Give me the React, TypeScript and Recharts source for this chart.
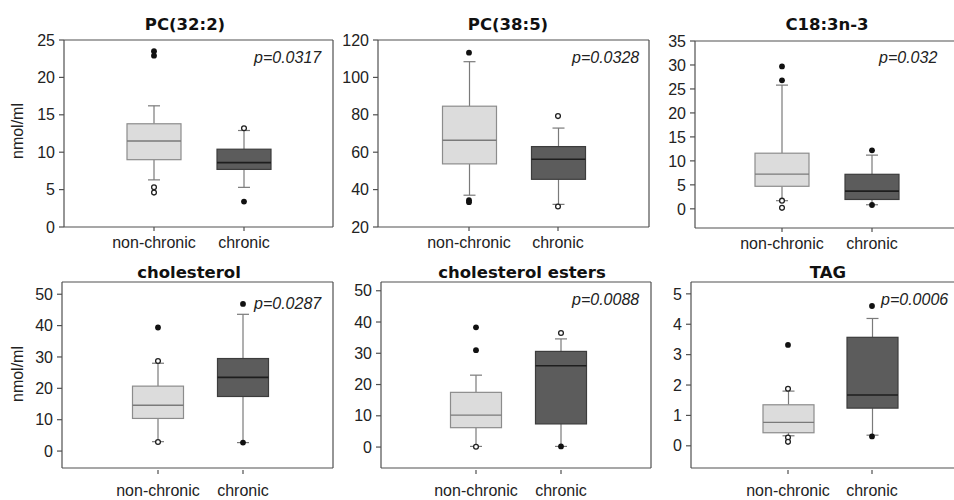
import React from 'react';
import { ComposedChart, Bar, Scatter, XAxis, YAxis } from 'recharts';

const categories = ['non-chronic', 'chronic'];
const titles = ['PC(32:2)', 'PC(38:5)', 'C18:3n-3', 'cholesterol', 'cholesterol esters', 'TAG'];
const pValues = ['p=0.0317', 'p=0.0328', 'p=0.032', 'p=0.0287', 'p=0.0088', 'p=0.0006'];
const yLabel = 'nmol/ml';

// per category: [whisker low, Q1, median, Q3, whisker high]
const pc322Box = [[6.3, 9.0, 11.5, 13.8, 16.2], [5.3, 7.7, 8.6, 10.4, 12.9]];
const pc385Box = [[37, 53.75, 66.4, 84.6, 108.4], [32.1, 45.5, 56.25, 63, 72.9]];
const c183Box = [[1.7, 4.7, 7.25, 11.6, 25.8], [0.85, 1.95, 3.7, 7.2, 11.2]];
const cholBox = [[3.0, 10.4, 14.6, 20.7, 28.0], [2.7, 17.4, 23.5, 29.5, 43.6]];
const cholEstBox = [[0.2, 6.2, 10.2, 17.5, 23.0], [0.2, 7.4, 26.0, 30.6, 34.6]];
const tagBox = [[0.33, 0.43, 0.77, 1.35, 1.8], [0.35, 1.24, 1.67, 3.57, 4.19]];

// outliers: [category index, value, extreme (1 = filled, 0 = open)]
const pc322Out = [[0, 23.5, 1], [0, 22.9, 1], [0, 5.3, 0], [0, 4.6, 0], [1, 13.2, 0], [1, 3.4, 1]];
const pc385Out = [[0, 113.2, 1], [0, 34.3, 1], [0, 33.3, 1], [1, 79.3, 0], [1, 31.0, 0]];
const c183Out = [[0, 29.7, 1], [0, 26.8, 1], [0, 1.7, 0], [0, 0.2, 0], [1, 12.2, 1], [1, 0.8, 1]];
const cholOut = [[0, 39.4, 1], [0, 28.7, 0], [0, 2.9, 0], [1, 46.9, 1], [1, 2.7, 1]];
const cholEstOut = [[0, 38.3, 1], [0, 31.0, 1], [0, 0.1, 0], [1, 36.5, 0], [1, 0.2, 1]];
const tagOut = [[0, 3.32, 1], [0, 1.88, 0], [0, 0.27, 0], [0, 0.13, 0], [1, 4.6, 1], [1, 0.31, 1]];

const yDomains = [[0, 25], [20, 120], [-4, 35], [-5.4, 53.9], [-6.7, 52.8], [-0.73, 5.39]];
const yTicks = [
  [0, 5, 10, 15, 20, 25],
  [20, 40, 60, 80, 100, 120],
  [0, 5, 10, 15, 20, 25, 30, 35],
  [0, 10, 20, 30, 40, 50],
  [0, 10, 20, 30, 40, 50],
  [0, 1, 2, 3, 4, 5],
];

const boxes = [pc322Box, pc385Box, c183Box, cholBox, cholEstBox, tagBox];
const outliers = [pc322Out, pc385Out, c183Out, cholOut, cholEstOut, tagOut];

// layout (page px): chart rect and plot frame
const layout = [
  { cx: 0, cy: 0, cw: 340, ch: 255, L: 64, R: 333, T: 40, B: 227, padL: 45, padR: 44, bar: 54, row: 0, tx: 185, ty: 29.5, px: 254, py: 63 },
  { cx: 340, cy: 0, cw: 320, ch: 255, L: 378, R: 649, T: 40, B: 227, padL: 46.5, padR: 46.5, bar: 54, row: 0, tx: 508, ty: 29.5, px: 572, py: 63 },
  { cx: 660, cy: 0, cw: 315, ch: 255, L: 695, R: 962, T: 41, B: 228, padL: 42, padR: 45, bar: 54, row: 0, tx: 827, ty: 29.5, px: 879, py: 63 },
  { cx: 0, cy: 255, cw: 340, ch: 245, L: 62, R: 333, T: 282, B: 468, padL: 53.5, padR: 47.5, bar: 51, row: 1, tx: 189, ty: 277.5, px: 254, py: 309 },
  { cx: 340, cy: 255, cw: 320, ch: 245, L: 381, R: 651, T: 282, B: 468, padL: 52.5, padR: 47.5, bar: 51, row: 1, tx: 522, ty: 277.5, px: 572, py: 304.5 },
  { cx: 660, cy: 255, cw: 315, ch: 245, L: 691, R: 962, T: 282, B: 468, padL: 55, padR: 48, bar: 51, row: 1, tx: 828, ty: 277.5, px: 881, py: 304.5 },
];

const AXIS = '#505050';
const SANS = '"Liberation Sans", Arial, sans-serif';

const BoxShape = (props: any) => {
  const { x, y, width, height, payload } = props;
  if (!payload) return null;
  const [lo, q1, med, q3, hi] = payload.stats;
  const top = Math.min(y, y + height);
  const bot = Math.max(y, y + height);
  const ppu = (bot - top) / (q3 - q1);
  const toY = (v: number) => top + (q3 - v) * ppu;
  const mid = x + width / 2;
  const cap = 12;
  const dark = payload.dark;
  const wc = '#7a7a7a';
  return (
    <g>
      <line x1={mid} x2={mid} y1={toY(hi)} y2={top} stroke={wc} strokeWidth={1.2} />
      <line x1={mid} x2={mid} y1={bot} y2={toY(lo)} stroke={wc} strokeWidth={1.2} />
      <line x1={mid - cap / 2} x2={mid + cap / 2} y1={toY(hi)} y2={toY(hi)} stroke={wc} strokeWidth={1.2} />
      <line x1={mid - cap / 2} x2={mid + cap / 2} y1={toY(lo)} y2={toY(lo)} stroke={wc} strokeWidth={1.2} />
      <rect x={x} y={top} width={width} height={bot - top} fill={dark ? '#5c5c5c' : '#dcdcdc'} stroke={dark ? '#3c3c3c' : '#8c8c8c'} strokeWidth={1.2} />
      <line x1={x} x2={x + width} y1={toY(med)} y2={toY(med)} stroke={dark ? '#1e1e1e' : '#7a7a7a'} strokeWidth={dark ? 1.6 : 1.3} />
    </g>
  );
};

const OutlierShape = (props: any) => {
  const { cx, cy, payload } = props;
  if (cx == null || cy == null) return null;
  return payload.extreme ? (
    <circle cx={cx} cy={cy} r={2.9} fill="#111" />
  ) : (
    <circle cx={cx} cy={cy} r={2.4} fill="#fff" stroke="#222" strokeWidth={1.3} />
  );
};

const DetachedTick = (p: any) => (
  <g>
    <line x1={p.x} x2={p.x} y1={p.y + 2} y2={p.y + 6} stroke={AXIS} strokeWidth={1.2} />
    <text x={p.x} y={p.y + 28} textAnchor="middle" fontSize={16} fill="#222" fontFamily={SANS}>
      {p.payload.value}
    </text>
  </g>
);

function Panel({ i }: { i: number }) {
  const lo = layout[i];
  const data = categories.map((c, k) => ({
    cat: c,
    range: [boxes[i][k][1], boxes[i][k][3]],
    stats: boxes[i][k],
    dark: k === 1,
  }));
  const pts = outliers[i].map(([k, v, e]) => ({ cat: categories[k], value: v, extreme: e === 1 }));
  const yW = lo.L - lo.cx;
  const rW = lo.cx + lo.cw - lo.R;
  const tH = lo.T - lo.cy;
  const bH = lo.cy + lo.ch - lo.B;
  return (
    <div style={{ position: 'absolute', left: lo.cx, top: lo.cy, width: lo.cw, height: lo.ch }}>
      <ComposedChart width={lo.cw} height={lo.ch} data={data} margin={{ top: 0, right: 0, bottom: 0, left: 0 }}>
        <XAxis
          dataKey="cat"
          type="category"
          allowDuplicatedCategory={false}
          padding={{ left: lo.padL, right: lo.padR }}
          height={bH}
          axisLine={{ stroke: AXIS, strokeWidth: 1.2 }}
          tickLine={lo.row === 0 ? { stroke: AXIS, strokeWidth: 1.2 } : false}
          tickSize={lo.row === 0 ? 4 : 0}
          tickMargin={lo.row === 0 ? 6 : 0}
          tick={lo.row === 0 ? { fontSize: 16, fill: '#222', fontFamily: SANS } : <DetachedTick />}
          interval={0}
        />
        <XAxis
          xAxisId="top"
          orientation="top"
          dataKey="cat"
          type="category"
          allowDuplicatedCategory={false}
          padding={{ left: lo.padL, right: lo.padR }}
          height={tH}
          axisLine={{ stroke: AXIS, strokeWidth: 1.2 }}
          tick={false}
          tickLine={false}
        />
        <YAxis
          type="number"
          domain={yDomains[i]}
          ticks={yTicks[i]}
          allowDataOverflow
          width={yW}
          axisLine={{ stroke: AXIS, strokeWidth: 1.2 }}
          tickLine={{ stroke: AXIS, strokeWidth: 1.2 }}
          tickSize={5}
          tickMargin={4}
          tick={{ fontSize: 16, fill: '#222', fontFamily: SANS }}
          interval={0}
        />
        <YAxis
          yAxisId="right"
          orientation="right"
          type="number"
          domain={yDomains[i]}
          allowDataOverflow
          width={rW}
          axisLine={{ stroke: AXIS, strokeWidth: 1.2 }}
          tick={false}
          tickLine={false}
        />
        <Bar dataKey="range" barSize={lo.bar} shape={<BoxShape />} isAnimationActive={false} />
        <Scatter data={pts} dataKey="value" shape={<OutlierShape />} isAnimationActive={false} />
      </ComposedChart>
    </div>
  );
}

export default function App() {
  return (
    <div style={{ position: 'absolute', left: 0, top: 0, width: 954, height: 500, overflow: 'hidden', background: '#fff' }}>
      {layout.map((_, i) => (
        <Panel key={i} i={i} />
      ))}
      <svg width={954} height={500} style={{ position: 'absolute', left: 0, top: 0, pointerEvents: 'none' }}>
        {layout.map((lo, i) => (
          <g key={i}>
            <text x={lo.tx} y={lo.ty} textAnchor="middle" fontSize={16.5} fontWeight="bold" fontFamily='"DejaVu Sans", Verdana, sans-serif' fill="#111">
              {titles[i]}
            </text>
            <text x={lo.px} y={lo.py} fontSize={16} fontStyle="italic" fontFamily={SANS} fill="#222">
              {pValues[i]}
            </text>
          </g>
        ))}
        <text transform="translate(23,131) rotate(-90)" textAnchor="middle" fontSize={16} fontFamily={SANS} fill="#222">
          {yLabel}
        </text>
        <text transform="translate(23,374) rotate(-90)" textAnchor="middle" fontSize={16} fontFamily={SANS} fill="#222">
          {yLabel}
        </text>
      </svg>
    </div>
  );
}
